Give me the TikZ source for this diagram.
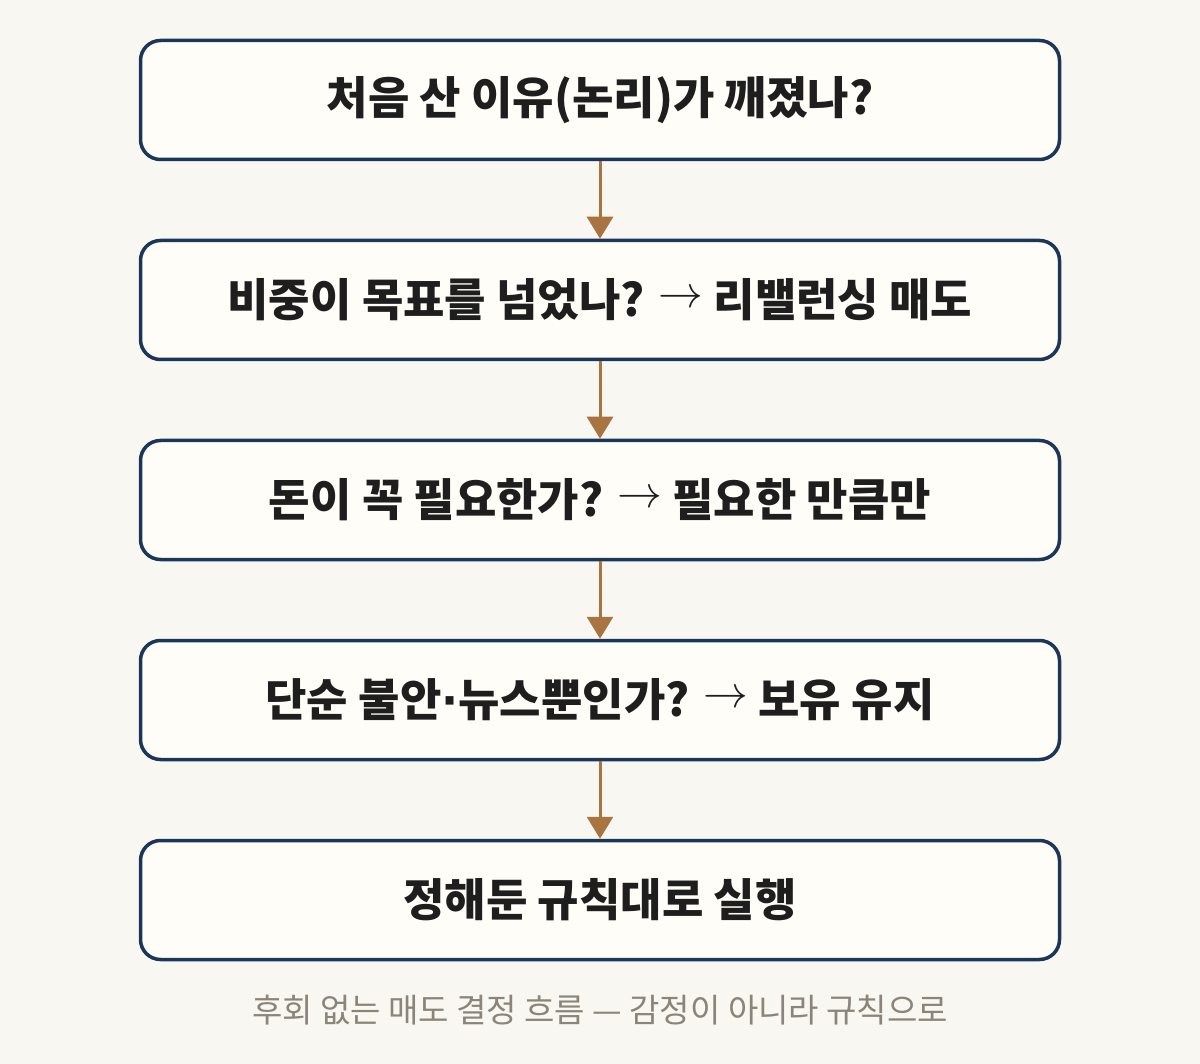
\documentclass[tikz,border=0pt]{standalone}
\usepackage{fontspec}
\setmainfont{Noto Sans CJK KR}
\newfontfamily\arrowfont{DejaVu Sans}
\usetikzlibrary{arrows.meta}
\definecolor{bgc}{HTML}{F9F7F1}
\definecolor{boxfill}{HTML}{FFFDF8}
\definecolor{navy}{HTML}{1C365A}
\definecolor{brown}{HTML}{A8743F}
\definecolor{capc}{HTML}{8A8479}
\definecolor{txt}{HTML}{1E1E1E}
\tikzset{
  stepbox/.style={draw=navy, line width=3.5pt, fill=boxfill, rounded corners=20pt,
    minimum width=919pt, minimum height=119pt, inner sep=0pt,
    font=\fontsize{45}{52}\selectfont\bfseries, text=txt},
  flow/.style={draw=brown, line width=3pt, -{Triangle[width=26pt,length=22pt]}}
}
\newcommand{\ra}{\raisebox{9pt}{\scalebox{1.8}{$\rightarrow$}}}
\newcommand{\md}{{\arrowfont\bfseries ·}}
\begin{document}
\begin{tikzpicture}[x=1pt,y=-1pt]
\fill[bgc] (0,0) rectangle (1200,1064);
\useasboundingbox (0,0) rectangle (1200,1064);
\node[stepbox] (b1) at (600,100) {처음 산 이유(논리)가 깨졌나?};
\node[stepbox] (b2) at (600,300) {비중이 목표를 넘었나? \ra{} 리밸런싱 매도};
\node[stepbox] (b3) at (600,500) {돈이 꼭 필요한가? \ra{} 필요한 만큼만};
\node[stepbox] (b4) at (600,700) {단순 불안\md{}뉴스뿐인가? \ra{} 보유 유지};
\node[stepbox] (b5) at (600,900) {정해둔 규칙대로 실행};
\draw[flow] (b1.south) -- (b2.north);
\draw[flow] (b2.south) -- (b3.north);
\draw[flow] (b3.south) -- (b4.north);
\draw[flow] (b4.south) -- (b5.north);
\node[font=\fontsize{33}{40}\selectfont, text=capc] (cap) at (600,1010) {후회 없는 매도 결정 흐름 — 감정이 아니라 규칙으로};
\end{tikzpicture}
\end{document}
